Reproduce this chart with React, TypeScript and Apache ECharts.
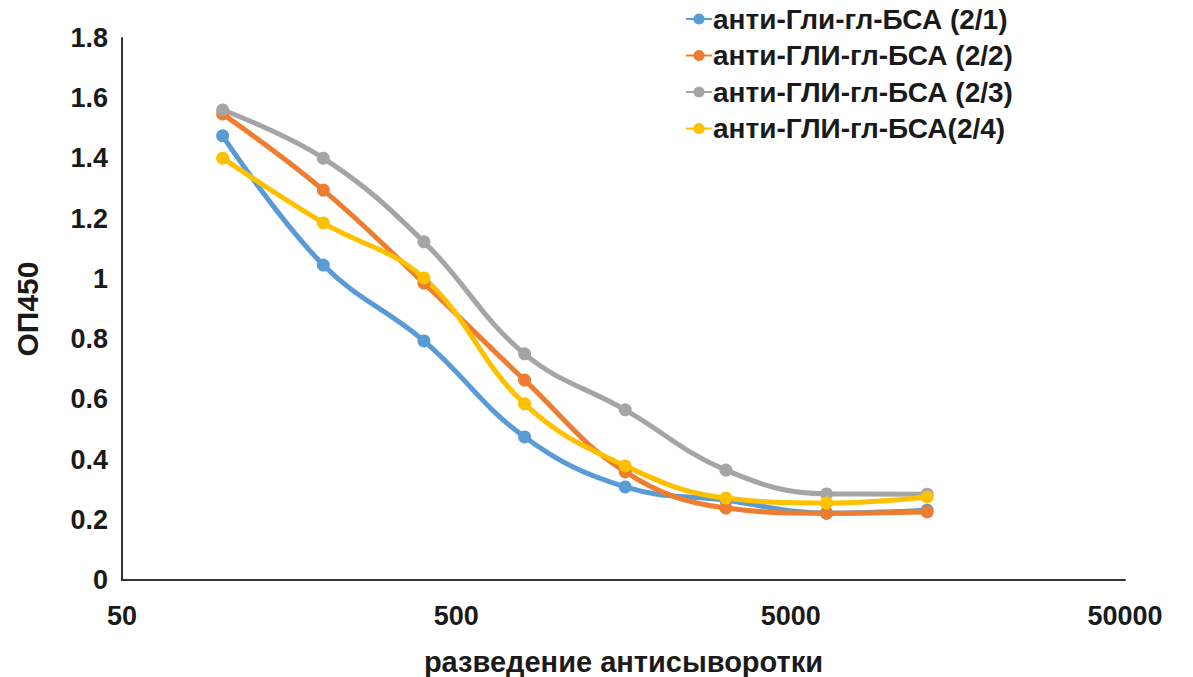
import React, { useEffect, useRef } from "react";
import * as echarts from "echarts";

// Serum dilution (reciprocal) and optical density at 450 nm
const dilutions = [100, 200, 400, 800, 1600, 3200, 6400, 12800];
const base = 50; // first labelled decade on the dilution axis
const decadeTicks = [50, 500, 5000, 50000];

const seriesNames = [
  "анти-Гли-гл-БСА (2/1)",
  "анти-ГЛИ-гл-БСА (2/2)",
  "анти-ГЛИ-гл-БСА (2/3)",
  "анти-ГЛИ-гл-БСА(2/4)",
];
const od21 = [1.475, 1.046, 0.794, 0.475, 0.309, 0.265, 0.222, 0.232];
const od22 = [1.548, 1.295, 0.986, 0.664, 0.359, 0.239, 0.222, 0.226];
const od23 = [1.561, 1.401, 1.123, 0.751, 0.565, 0.365, 0.286, 0.285];
const od24 = [1.401, 1.186, 1.003, 0.585, 0.379, 0.272, 0.256, 0.276];
const colors = ["#5B9BD5", "#ED7D31", "#A5A5A5", "#FFC000"];

const FONT = "'Liberation Sans', Arial, sans-serif";

// position on a log10 axis measured in decades above `base`
const toDecade = (d: number) => Math.log10(d / base);

export default function App() {
  const ref = useRef<HTMLDivElement>(null);

  useEffect(() => {
    if (!ref.current) return;
    const chart = echarts.init(ref.current, undefined, { renderer: "svg" });
    const allOd = [od21, od22, od23, od24];

    chart.setOption({
      animation: false,
      backgroundColor: "#ffffff",
      color: colors,
      grid: {
        left: 122,
        right: 68,
        top: 38,
        bottom: 97,
        outerBoundsMode: "none",
        containLabel: false,
      },
      legend: {
        orient: "vertical",
        left: 680,
        top: 0,
        itemWidth: 26,
        itemHeight: 14,
        itemGap: 8.5,
        textStyle: {
          fontFamily: FONT,
          fontWeight: "bold",
          fontSize: 28,
          color: "#1a1a1a",
          padding: [0, 0, 0, -4],
        },
        data: seriesNames,
      },
      xAxis: {
        type: "value",
        min: 0,
        max: toDecade(decadeTicks[decadeTicks.length - 1]),
        interval: 1,
        name: "разведение антисыворотки",
        nameLocation: "middle",
        nameGap: 67,
        nameTextStyle: {
          fontFamily: FONT,
          fontWeight: "bold",
          fontSize: 29,
          color: "#1a1a1a",
        },
        axisLine: { show: true, lineStyle: { color: "#333333", width: 2 } },
        axisTick: { show: false },
        splitLine: { show: false },
        axisLabel: {
          margin: 22,
          fontFamily: FONT,
          fontWeight: "bold",
          fontSize: 27,
          color: "#1a1a1a",
          formatter: (v: number) => String(Math.round(base * Math.pow(10, v))),
        },
      },
      yAxis: {
        type: "value",
        min: 0,
        max: 1.8,
        interval: 0.2,
        name: "ОП450",
        nameLocation: "middle",
        nameGap: 80,
        nameRotate: 90,
        nameTextStyle: {
          fontFamily: FONT,
          fontWeight: "bold",
          fontSize: 30,
          color: "#1a1a1a",
        },
        axisLine: { show: true, lineStyle: { color: "#333333", width: 2 } },
        axisTick: { show: false },
        splitLine: { show: false },
        axisLabel: {
          margin: 14,
          fontFamily: FONT,
          fontWeight: "bold",
          fontSize: 27,
          color: "#1a1a1a",
          formatter: (v: number) => String(Math.round(v * 10) / 10),
        },
      },
      series: seriesNames.map((name, i) => ({
        name,
        type: "line",
        smooth: 0.4,
        symbol: "circle",
        symbolSize: 13,
        lineStyle: { width: 5, color: colors[i] },
        itemStyle: { color: colors[i] },
        data: dilutions.map((d, k) => [toDecade(d), allOd[i][k]]),
      })),
    });

    return () => chart.dispose();
  }, []);

  return (
    <div
      ref={ref}
      style={{ position: "fixed", left: 0, top: 0, width: 1193, height: 677 }}
    />
  );
}
